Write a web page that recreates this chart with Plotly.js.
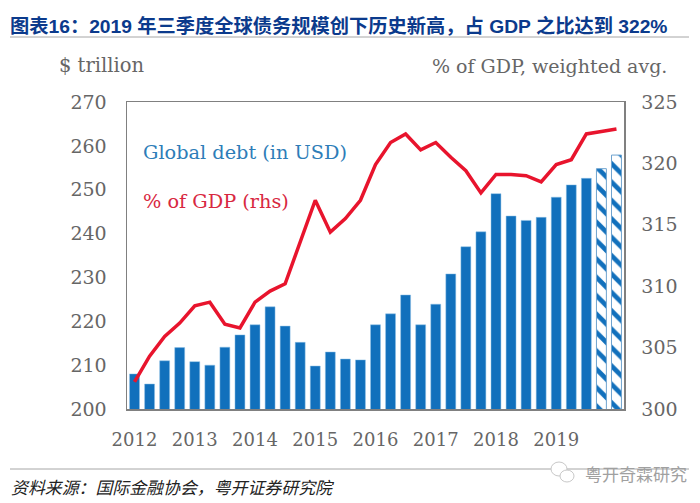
<!DOCTYPE html>
<html>
<head>
<meta charset="utf-8">
<script src="https://cdn.plot.ly/plotly-3.0.1.min.js"></script>
<style>
html,body{margin:0;padding:0;background:#fff;}
</style>
</head>
<body>
<div id="chart" style="width:700px;height:503px;"></div>
<script>
// values, one per quarter
var quarters = ['2012Q1','2012Q2','2012Q3','2012Q4','2013Q1','2013Q2','2013Q3','2013Q4',
  '2014Q1','2014Q2','2014Q3','2014Q4','2015Q1','2015Q2','2015Q3','2015Q4',
  '2016Q1','2016Q2','2016Q3','2016Q4','2017Q1','2017Q2','2017Q3','2017Q4',
  '2018Q1','2018Q2','2018Q3','2018Q4','2019Q1','2019Q2','2019Q3'];
var debt = [208.0,205.7,211.0,214.0,210.8,210.0,214.1,216.9,
  219.2,223.3,218.9,215.2,209.8,213.0,211.4,211.2,
  219.2,221.7,226.0,219.2,223.9,230.8,237.0,240.4,
  249.1,244.0,243.0,243.7,248.3,251.1,252.6];
// last two bars are hatched in the original
var estQuarters = ['2019Q4','2020Q1'];
var estDebt = [254.8,257.9];
var allQuarters = quarters.concat(estQuarters);
var pctGdp = [302.2,304.3,305.9,307.0,308.4,308.7,306.9,306.6,
  308.7,309.6,310.2,313.6,317.0,314.4,315.5,317.0,
  319.9,321.7,322.4,321.1,321.7,320.5,319.4,317.6,
  319.1,319.1,319.0,318.5,319.9,320.3,322.4,322.6,322.8];
var yearTicks = ['2012Q1','2013Q1','2014Q1','2015Q1','2016Q1','2017Q1','2018Q1','2019Q1'];
var yearLabels = ['2012','2013','2014','2015','2016','2017','2018','2019'];
var leftTicks = [200,210,220,230,240,250,260,270];
var rightTicks = [300,305,310,315,320,325];

var W = 700, H = 503;
var m = {l:127, r:76, t:102, b:94};
var serif = '"DejaVu Serif", "Liberation Serif", serif';
var grey = '#666666';
var blue = '#1170BC';
var red = '#E8142D';
var cjkSans = '"Liberation Sans", "Noto Sans CJK SC", sans-serif';
var cjk = '"Noto Sans CJK SC", sans-serif';

// pixel position -> paper coordinates, the title texts sit outside the plot
function px(x){return (x-m.l)/(W-m.l-m.r);}
function py(y){return 1-(y-m.t)/(H-m.t-m.b);}

function label(text,x,y,size,color,anchor,family)
{
  return {text:text, xref:'paper', yref:'paper', x:px(x), y:py(y), showarrow:false, borderpad:0,
    xanchor:anchor, yanchor:'middle', font:{family:family, size:size, color:color}};
}

var bars = {
  type:'bar', x:quarters, y:debt, width:0.66,
  marker:{color:blue, line:{color:'#8FC0E6', width:0.5}}
};
var hatched = {
  type:'bar', x:estQuarters, y:estDebt, width:0.66,
  marker:{color:'#ffffff', line:{color:'#6FA3CF', width:1},
    pattern:{shape:'\\', fgcolor:blue, bgcolor:'#ffffff', fgopacity:1, size:13, solidity:0.36, fillmode:'replace'}}
};
var line = {
  type:'scatter', mode:'lines', x:allQuarters, y:pctGdp, yaxis:'y2',
  line:{color:red, width:3.5, shape:'linear'}
};

var source = label('资料来源：国际金融协会，粤开证券研究院',10,487,16.9,'#222222','left',cjk);
source.font.style = 'italic';

var layout = {
  width:W, height:H, margin:m, showlegend:false, barmode:'overlay',
  paper_bgcolor:'#ffffff', plot_bgcolor:'#ffffff',
  title:{
    text:'图表16：2019 年三季度全球债务规模创下历史新高，占 GDP 之比达到 322%',
    x:10/W, xanchor:'left', y:1-26/H, yanchor:'middle',
    font:{family:cjkSans, size:19.25, color:'#0B3A8C', weight:700}
  },
  xaxis:{type:'category', categoryorder:'array', categoryarray:allQuarters, range:[-0.5,32.5],
    tickmode:'array', tickvals:yearTicks, ticktext:yearLabels, ticks:'', ticklabelstandoff:14,
    tickfont:{family:serif, size:18, color:grey}, showgrid:false, zeroline:false,
    showline:true, mirror:true, linecolor:'#808080', linewidth:1.5, tickangle:0},
  yaxis:{range:[200,270], tickmode:'array', tickvals:leftTicks, ticks:'', ticklabelstandoff:15, showgrid:false, zeroline:false,
    tickfont:{family:serif, size:19, color:grey}, showline:true, linecolor:'#808080', linewidth:1.5},
  yaxis2:{overlaying:'y', side:'right', range:[300,325], tickmode:'array', tickvals:rightTicks, ticks:'', ticklabelstandoff:12,
    showgrid:false, zeroline:false, tickfont:{family:serif, size:19, color:grey},
    showline:true, linecolor:'#808080', linewidth:1.5},
  shapes:[
    {type:'line', xref:'paper', yref:'paper', x0:px(10), x1:px(689), y0:py(37), y1:py(37), line:{color:'#A6A6A6', width:1}},
    {type:'line', xref:'paper', yref:'paper', x0:px(10), x1:px(689), y0:py(469), y1:py(469), line:{color:'#A6A6A6', width:1}},
    // wechat mark behind the watermark
    {type:'circle', xref:'paper', yref:'paper', x0:px(551), x1:px(567), y0:py(476), y1:py(462), fillcolor:'#ffffff', line:{color:'#C8C8C8', width:1}},
    {type:'circle', xref:'paper', yref:'paper', x0:px(560), x1:px(574), y0:py(482), y1:py(470), fillcolor:'#ffffff', line:{color:'#C8C8C8', width:1}}
  ],
  annotations:[
    label('$ trillion',58,66,19.5,grey,'left',serif),
    label('% of GDP, weighted avg.',668,66,19,grey,'right',serif),
    label('Global debt (in USD)',142,152,19.3,'#2E7DB8','left',serif),
    label('% of GDP (rhs)',142,202,19.3,'#D8283F','left',serif),
    source,
    label('粤开奇霖研究',584,473,17,'#A0A0A0','left',cjk)
  ]
};

Plotly.newPlot('chart',[bars,hatched,line],layout,{staticPlot:true,displayModeBar:false});
</script>
</body>
</html>
